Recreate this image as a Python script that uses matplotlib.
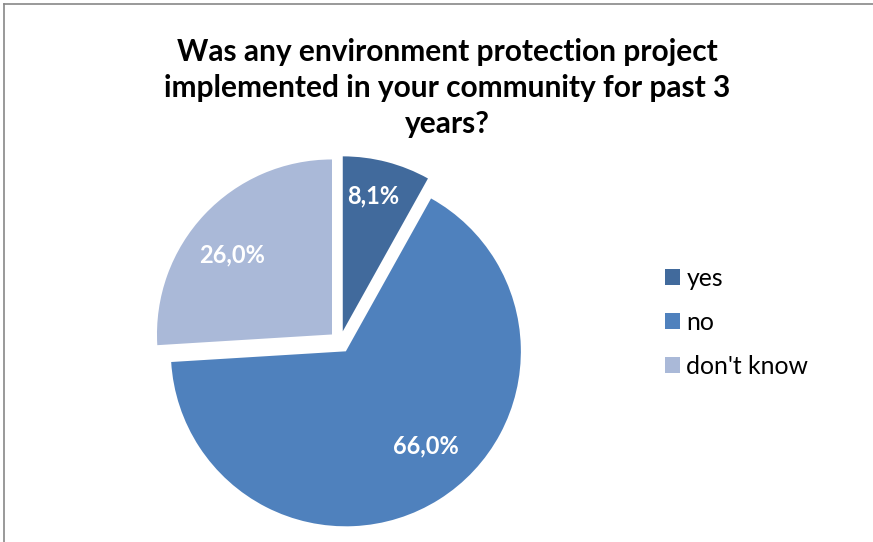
import numpy as np
import matplotlib
matplotlib.use("Agg")
import matplotlib.pyplot as plt
from matplotlib.lines import Line2D

# survey answers (percent)
labels = ["yes", "no", "don't know"]
shares = [8.1, 66.0, 26.0]
colors = ["#416A9C", "#4F81BD", "#AAB9D8"]
title = "Was any environment protection project\nimplemented in your community for past 3\nyears?"

W, H = 873, 542
plt.rcParams["font.family"] = ["Lato", "DejaVu Sans"]

fig = plt.figure(figsize=(W / 100, H / 100), dpi=100)
ax = fig.add_axes([0, 0, 1, 1])

radius = 175
center = (340, H - 342)
explode = [11] * len(shares)  # data units (pixels here)

wedges, _ = ax.pie(shares, colors=colors, startangle=90, counterclock=False,
                   radius=radius, center=center, explode=explode,
                   wedgeprops=dict(linewidth=0))
# pie() resets the limits, so work in pixel units afterwards
ax.set_xlim(0, W)
ax.set_ylim(0, H)
ax.set_aspect("equal")
ax.axis("off")

# percentage labels: radius fraction and angle nudge from the wedge middle
label_r = [0.79, 0.71, 0.73]
label_turn = [2, 8, 5]
for w, val, r, dt in zip(wedges, shares, label_r, label_turn):
    mid = np.deg2rad((w.theta1 + w.theta2) / 2 + dt)
    cx, cy = w.center
    x = cx + r * radius * np.cos(mid)
    y = cy + r * radius * np.sin(mid)
    ax.text(x, y, f"{val:.1f}%".replace(".", ","), color="white",
            fontsize=17, fontweight="bold", ha="center", va="center")

fig.text(447 / W, 1 - 88 / H, title, ha="center", va="center",
         fontsize=21.5, fontweight="bold", linespacing=1.33)

ax.legend(wedges, labels, loc="upper left", bbox_to_anchor=(655 / W, 1 - 257 / H),
          frameon=False, fontsize=17.8, handlelength=0.62, handleheight=0.62,
          handletextpad=0.25, labelspacing=0.85, borderaxespad=0)

# chart area border (top and left edges visible)
fig.add_artist(Line2D([4 / W, 1], [1 - 4 / H, 1 - 4 / H], color="#888888", lw=1.2))
fig.add_artist(Line2D([4 / W, 4 / W], [0, 1 - 4 / H], color="#888888", lw=1.2))

fig.savefig("out.png", dpi=100)
